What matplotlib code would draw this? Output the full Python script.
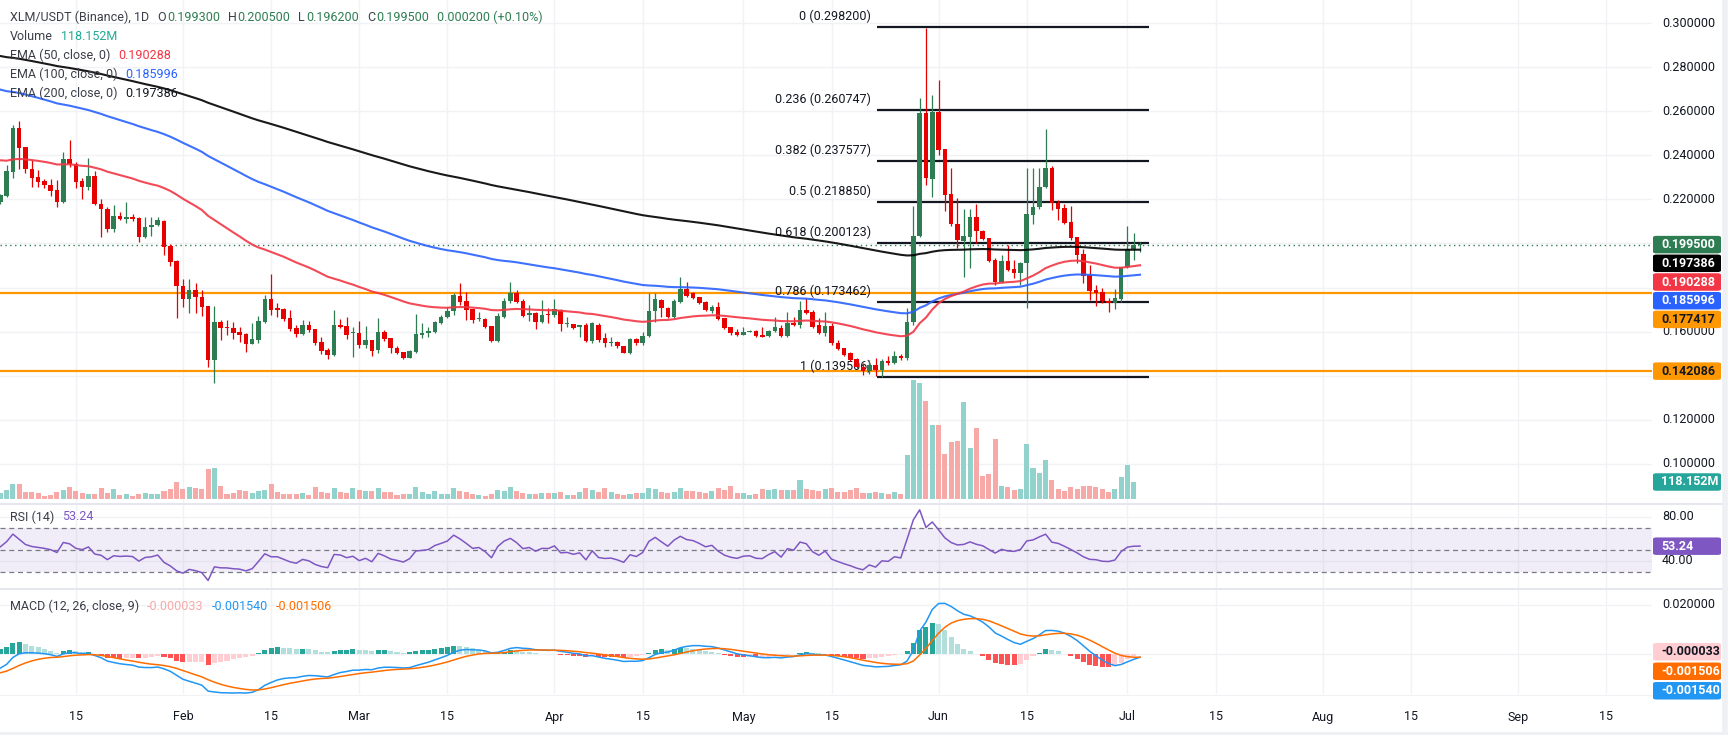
import matplotlib
matplotlib.use('Agg')
import matplotlib.pyplot as plt
from matplotlib.patches import FancyBboxPatch
from matplotlib.lines import Line2D

plt.rcParams['font.family'] = ['Roboto', 'DejaVu Sans']

# ---------------- data (day index: 0 = Jan 1) ----------------
first_day = 2
open_ = [0.2190,0.2217,0.2326,0.2526,0.2438,0.2338,0.2302,0.2284,0.2265,0.2243,0.2190,0.2382,0.2362,0.2284,0.2258,0.2306,0.2179,0.2157,0.2067,0.2125,
         0.2113,0.2118,0.2114,0.2031,0.2073,0.2084,0.2102,0.1990,0.1921,0.1809,0.1748,0.1789,0.1759,0.1716,0.1471,0.1644,0.1621,0.1618,0.1600,0.1589,
         0.1544,0.1563,0.1645,0.1748,0.1709,0.1701,0.1663,0.1617,0.1589,0.1630,0.1612,0.1555,0.1517,0.1494,0.1630,0.1626,0.1596,0.1595,0.1539,0.1562,
         0.1517,0.1600,0.1570,0.1524,0.1506,0.1482,0.1509,0.1585,0.1593,0.1600,0.1641,0.1665,0.1694,0.1763,0.1739,0.1703,0.1659,0.1657,0.1626,0.1559,
         0.1668,0.1739,0.1777,0.1739,0.1676,0.1686,0.1645,0.1678,0.1674,0.1698,0.1633,0.1633,0.1620,0.1630,0.1558,0.1630,0.1570,0.1550,0.1553,0.1535,
         0.1505,0.1565,0.1547,0.1580,0.1694,0.1743,0.1706,0.1665,0.1736,0.1793,0.1774,0.1756,0.1733,0.1694,0.1713,0.1660,0.1623,0.1600,0.1585,0.1600,
         0.1603,0.1585,0.1580,0.1603,0.1615,0.1580,0.1641,0.1630,0.1698,0.1690,0.1630,0.1592,0.1625,0.1550,0.1524,0.1502,0.1474,0.1441,0.1420,0.1450,
         0.1425,0.1465,0.1460,0.1490,0.1480,0.1642,0.2036,0.2591,0.2293,0.2595,0.2429,0.2225,0.2089,0.2013,0.2031,0.2119,0.2058,0.2024,0.1925,0.1827,
         0.1921,0.1884,0.1868,0.1910,0.2129,0.2164,0.2255,0.2341,0.2185,0.2161,0.2098,0.2029,0.1952,0.1857,0.1789,0.1780,0.1739,0.1732,0.1748,0.1892,
         0.1973,0.1993]
high = [0.2225,0.2356,0.2538,0.2556,0.2440,0.2379,0.2333,0.2294,0.2291,0.2288,0.2417,0.2470,0.2371,0.2296,0.2386,0.2329,0.2202,0.2167,0.2175,0.2145,
        0.2190,0.2132,0.2121,0.2119,0.2119,0.2121,0.2107,0.1998,0.1925,0.1839,0.1839,0.1822,0.1789,0.1716,0.1716,0.1653,0.1653,0.1645,0.1623,0.1595,
        0.1641,0.1672,0.1766,0.1862,0.1731,0.1709,0.1698,0.1630,0.1653,0.1648,0.1612,0.1577,0.1524,0.1698,0.1657,0.1668,0.1623,0.1648,0.1626,0.1562,
        0.1660,0.1608,0.1570,0.1535,0.1506,0.1515,0.1680,0.1638,0.1623,0.1648,0.1675,0.1713,0.1774,0.1822,0.1778,0.1703,0.1690,0.1660,0.1626,0.1683,
        0.1754,0.1827,0.1789,0.1747,0.1721,0.1691,0.1743,0.1709,0.1747,0.1701,0.1668,0.1635,0.1630,0.1638,0.1645,0.1638,0.1592,0.1574,0.1558,0.1535,
        0.1570,0.1570,0.1600,0.1774,0.1774,0.1746,0.1713,0.1746,0.1846,0.1827,0.1782,0.1759,0.1740,0.1721,0.1736,0.1660,0.1623,0.1611,0.1623,0.1608,
        0.1608,0.1623,0.1608,0.1668,0.1630,0.1691,0.1668,0.1739,0.1751,0.1698,0.1660,0.1691,0.1638,0.1562,0.1527,0.1509,0.1480,0.1460,0.1470,0.1480,
        0.1475,0.1490,0.1510,0.1500,0.1706,0.2170,0.2659,0.2976,0.2674,0.2742,0.2429,0.2341,0.2205,0.2155,0.2155,0.2179,0.2061,0.2024,0.1933,0.1948,
        0.1993,0.1925,0.1918,0.2341,0.2341,0.2341,0.2520,0.2353,0.2197,0.2179,0.2170,0.2029,0.1974,0.1902,0.1812,0.1797,0.1751,0.1794,0.1895,0.2079,
        0.2046,0.2005]
low = [0.2180,0.2210,0.2298,0.2338,0.2321,0.2258,0.2258,0.2253,0.2217,0.2167,0.2185,0.2349,0.2250,0.2200,0.2243,0.2176,0.2031,0.2054,0.2054,0.2105,
       0.2091,0.2104,0.2008,0.2025,0.2034,0.2080,0.1948,0.1900,0.1660,0.1710,0.1683,0.1683,0.1671,0.1441,0.1369,0.1562,0.1585,0.1567,0.1554,0.1509,
       0.1544,0.1550,0.1640,0.1676,0.1668,0.1650,0.1605,0.1574,0.1583,0.1600,0.1539,0.1499,0.1476,0.1490,0.1615,0.1567,0.1487,0.1524,0.1524,0.1491,
       0.1505,0.1556,0.1502,0.1499,0.1474,0.1479,0.1505,0.1570,0.1574,0.1595,0.1636,0.1660,0.1675,0.1721,0.1653,0.1638,0.1650,0.1618,0.1552,0.1555,
       0.1660,0.1730,0.1730,0.1665,0.1648,0.1612,0.1640,0.1641,0.1668,0.1603,0.1623,0.1610,0.1577,0.1555,0.1550,0.1555,0.1532,0.1535,0.1528,0.1503,
       0.1500,0.1540,0.1540,0.1575,0.1646,0.1668,0.1660,0.1660,0.1729,0.1758,0.1747,0.1725,0.1694,0.1683,0.1655,0.1614,0.1585,0.1580,0.1585,0.1597,
       0.1577,0.1574,0.1577,0.1600,0.1577,0.1577,0.1625,0.1615,0.1680,0.1618,0.1588,0.1580,0.1540,0.1515,0.1490,0.1465,0.1435,0.1405,0.1410,0.1400,
       0.1395,0.1450,0.1455,0.1470,0.1470,0.1630,0.2030,0.2265,0.2212,0.2401,0.2149,0.2080,0.1978,0.1849,0.1890,0.2001,0.2015,0.1915,0.1812,0.1820,
       0.1877,0.1842,0.1812,0.1706,0.2087,0.2155,0.2250,0.2152,0.2107,0.2090,0.2016,0.1910,0.1822,0.1744,0.1718,0.1728,0.1691,0.1705,0.1736,0.1890,
       0.1925,0.1962]
close = [0.2220,0.2329,0.2526,0.2435,0.2338,0.2299,0.2281,0.2264,0.2240,0.2190,0.2382,0.2359,0.2281,0.2258,0.2306,0.2179,0.2155,0.2067,0.2125,0.2113,
         0.2118,0.2110,0.2031,0.2076,0.2084,0.2105,0.1986,0.1918,0.1809,0.1748,0.1789,0.1759,0.1713,0.1471,0.1644,0.1618,0.1615,0.1595,0.1585,0.1544,
         0.1567,0.1648,0.1748,0.1698,0.1698,0.1656,0.1614,0.1589,0.1630,0.1608,0.1550,0.1514,0.1494,0.1630,0.1623,0.1585,0.1600,0.1539,0.1562,0.1514,
         0.1600,0.1567,0.1524,0.1505,0.1482,0.1512,0.1589,0.1595,0.1604,0.1645,0.1668,0.1694,0.1766,0.1736,0.1698,0.1653,0.1661,0.1623,0.1559,0.1671,
         0.1739,0.1777,0.1736,0.1672,0.1686,0.1645,0.1676,0.1674,0.1701,0.1633,0.1637,0.1618,0.1630,0.1558,0.1638,0.1562,0.1550,0.1553,0.1533,0.1505,
         0.1565,0.1547,0.1580,0.1694,0.1746,0.1706,0.1665,0.1739,0.1793,0.1763,0.1754,0.1729,0.1698,0.1713,0.1659,0.1618,0.1595,0.1583,0.1600,0.1603,
         0.1580,0.1577,0.1603,0.1623,0.1580,0.1641,0.1630,0.1698,0.1686,0.1623,0.1592,0.1625,0.1547,0.1520,0.1494,0.1471,0.1441,0.1420,0.1450,0.1425,
         0.1465,0.1460,0.1490,0.1480,0.1642,0.2036,0.2591,0.2296,0.2595,0.2425,0.2220,0.2087,0.2016,0.2034,0.2119,0.2058,0.2020,0.1922,0.1824,0.1921,
         0.1880,0.1868,0.1910,0.2134,0.2164,0.2255,0.2341,0.2182,0.2156,0.2095,0.2026,0.1948,0.1853,0.1786,0.1777,0.1739,0.1732,0.1754,0.1892,0.1975,
         0.1993,0.1995]
# volume in millions; the last candle has no bar drawn yet
volume_m = [41.7,62.6,104,104,48.7,48.7,39.4,20.8,27.8,48.7,62.6,83.4,55.6,41.7,34.8,34.8,76.5,41.7,69.5,27.8,
            34.8,20.8,34.8,41.7,34.8,34.8,55.6,69.5,118,69.5,83.4,76.5,69.5,208.5,215,90.4,34.8,41.7,62.6,55.6,
            41.7,55.6,62.6,104,48.7,34.8,34.8,34.8,41.7,27.8,83.4,48.7,41.7,76.5,48.7,41.7,76.5,62.6,55.6,55.6,
            76.5,48.7,48.7,27.8,34.8,34.8,83.4,48.7,34.8,55.6,34.8,34.8,76.5,55.6,48.7,34.8,27.8,20.8,34.8,62.6,
            55.6,83.4,55.6,41.7,34.8,34.8,41.7,41.7,41.7,48.7,27.8,27.8,48.7,76.5,62.6,48.7,76.5,48.7,34.8,27.8,
            34.8,41.7,41.7,76.5,69.5,48.7,41.7,48.7,76.5,55.6,55.6,48.7,41.7,55.6,76.5,62.6,90.4,41.7,41.7,27.8,
            34.8,69.5,62.6,69.5,62.6,62.6,62.6,132,69.5,62.6,55.6,69.5,76.5,48.7,48.7,62.6,76.5,41.7,41.7,48.7,
            41.7,34.8,48.7,34.8,306,827,806,681,514,514,313,396,403,674,354,493,160,174,417,90.4,
            83.4,62.6,69.5,382,215,181,271,132,69.5,55.6,83.4,69.5,90.4,90.4,83.4,69.5,48.7,69.5,153,236,
            118.152]

ema_specs = [(200, 0.2857, '#000000'), (100, 0.2708, '#2962ff'), (50, 0.2384, '#f23645')]
rsi_seed_gain, rsi_seed_loss = 0.0040, 0.0036
macd_seed_fast, macd_seed_slow, macd_seed_signal = 0.2185, 0.2252, -0.0083

fib_ratios = ['0', '0.236', '0.382', '0.5', '0.618', '0.786', '1']
fib_levels = [0.298200, 0.260747, 0.237577, 0.218850, 0.200123, 0.173462, 0.139506]
fib_start_day, fib_end_day = 141.3, 184.5
hlines_orange = [0.177417, 0.142086]

legend_ohlc = ('0.199300', '0.200500', '0.196200', '0.199500', '0.000200 (+0.10%)')
last_volume = '118.152M'
ema_labels = {50: '0.190288', 100: '0.185996', 200: '0.197386'}
rsi_label = '53.24'
macd_labels = ('-0.000033', '-0.001540', '-0.001506')

tick_days = [14, 31, 45, 59, 73, 90, 104, 120, 134, 151, 165, 181, 195, 212, 226, 243, 257]
tick_labels = ['15', 'Feb', '15', 'Mar', '15', 'Apr', '15', 'May', '15', 'Jun', '15', 'Jul',
               '15', 'Aug', '15', 'Sep', '15']
price_ticks = [0.10, 0.12, 0.14, 0.16, 0.18, 0.20, 0.22, 0.24, 0.26, 0.28, 0.30]
price_tick_shown = [0.10, 0.12, 0.16, 0.22, 0.24, 0.26, 0.28, 0.30]

# ---------------- derived indicators ----------------
n = len(close)
days = [first_day + i for i in range(n)]

def ema(series, length, seed):
    a = 2.0 / (length + 1)
    out, prev = [], seed
    for v in series:
        prev = prev + a * (v - prev)
        out.append(prev)
    return out

g, l = rsi_seed_gain, rsi_seed_loss
rsi = [100 - 100 / (1 + g / l)]
for i in range(1, n):
    ch = close[i] - close[i - 1]
    g = (g * 13 + max(ch, 0)) / 14
    l = (l * 13 + max(-ch, 0)) / 14
    rsi.append(100 - 100 / (1 + g / l))

fast = ema(close, 12, macd_seed_fast)
slow = ema(close, 26, macd_seed_slow)
macd = [f - s for f, s in zip(fast, slow)]
signal = ema(macd, 9, macd_seed_signal)
hist = [m - s for m, s in zip(macd, signal)]

# ---------------- figure layout ----------------
W, H, DPI = 1728, 735, 100
fig = plt.figure(figsize=(W / DPI, H / DPI), dpi=DPI)
fig.patch.set_facecolor('white')
PR = 1652
XL = (1.953, 264.3)

def add_ax(top, bottom):
    a = fig.add_axes([0, 1 - bottom / H, PR / W, (bottom - top) / H])
    a.set_xlim(*XL)
    for s in a.spines.values():
        s.set_visible(False)
    a.set_xticks([]); a.set_yticks([])
    return a

GRID = '#f0f2f5'
axv = add_ax(0, 503)
ax = add_ax(0, 503)
ax.patch.set_alpha(0)
ax.set_ylim(0.08226, 0.31048)
axv.set_ylim(-27.8, 3468)
ax_rsi = add_ax(505, 588)
ax_rsi.set_ylim(15.1, 90.8)
ax_macd = add_ax(590, 694)
ax_macd.set_ylim(-0.01651, 0.02608)

# grid
for d in tick_days:
    for a in (axv, ax_rsi, ax_macd):
        a.axvline(d, color=GRID, lw=1, zorder=0)
for p in price_ticks:
    axv.add_line(Line2D([0, 1], [p, p], transform=ax.get_yaxis_transform(), color=GRID, lw=1, zorder=0))
for r in (80, 40):
    ax_rsi.axhline(r, color=GRID, lw=1, zorder=0)
for m in (0.02, 0.0):
    ax_macd.axhline(m, color=GRID, lw=1, zorder=0)

UP, DN = '#2e7d52', '#e60000'
VUP, VDN = '#92d2cc', '#f7a9a7'

# volume
nv = len(volume_m)
vcols = [VUP if c >= o else VDN for o, c in zip(open_[:nv], close[:nv])]
axv.bar(days[:nv], volume_m, width=0.8, color=vcols, zorder=1)

# orange horizontal levels
for p in hlines_orange:
    ax.axhline(p, color='#ff9800', lw=1.6, zorder=2)

# fib retracement
for r, lvl in zip(fib_ratios, fib_levels):
    ax.plot([fib_start_day, fib_end_day], [lvl, lvl], color='#131722', lw=1.6, zorder=2, solid_capstyle='butt')
    ax.text(fib_start_day - 1.0, lvl + 0.0048, '%s (%.6f)' % (r, lvl), ha='right', va='center',
            fontsize=9, color='#131722', zorder=2)

# last price dotted line
ax.axhline(close[-1], color=UP, lw=1, ls=(0, (1, 2.5)), zorder=2)

# candles
for d, o, h, lo, c in zip(days, open_, high, low, close):
    col = UP if c >= o else DN
    ax.plot([d, d], [lo, h], color=col, lw=0.9, zorder=3, solid_capstyle='butt')
    bh = max(abs(c - o), 0.00045)
    ax.bar(d, bh, bottom=min(o, c), width=0.72, color=col, zorder=4, linewidth=0)

# EMAs
for length, seed, col in ema_specs:
    e = ema(close, length, seed)
    ax.plot(days, e, color=col, lw=1.5, zorder=5, alpha=0.9)

# RSI pane
ax_rsi.axhspan(30, 70, color='#7e57c2', alpha=0.1, lw=0, zorder=0)
for r in (70, 50, 30):
    ax_rsi.axhline(r, color='#787b86', lw=0.9, ls=(0, (4, 3)), zorder=1)
ax_rsi.plot(days, rsi, color='#7e57c2', lw=1.1, zorder=3)

# MACD pane
hcols = []
for i, hv in enumerate(hist):
    prev = hist[i - 1] if i > 0 else hv
    if hv >= 0:
        hcols.append('#26a69a' if hv >= prev else '#b2dfdb')
    else:
        hcols.append('#ffcdd2' if hv >= prev else '#ff5252')
ax_macd.bar(days, hist, width=0.8, color=hcols, zorder=1)
ax_macd.plot(days, macd, color='#2196f3', lw=1.1, zorder=3)
ax_macd.plot(days, signal, color='#ff6d00', lw=1.1, zorder=3)

# pane separators & border
for y in (504, 589):
    fig.add_artist(Line2D([0, 1], [1 - y / H, 1 - y / H], color='#e0e3eb', lw=1.2))
fig.add_artist(Line2D([0, 1], [1 - 694.5 / H, 1 - 694.5 / H], color='#f0f2f5', lw=0.8))
fig.add_artist(Line2D([1 - 3 / W, 1 - 3 / W], [0, 1], color='#eef0f4', lw=4))
fig.add_artist(Line2D([0, 1], [1.5 / H, 1.5 / H], color='#eef0f4', lw=3))

# ---------------- text ----------------
TXT = '#131722'
fig.canvas.draw()
renderer = fig.canvas.get_renderer()

def data_to_py(a, y):
    return H - a.transData.transform((XL[0], y))[1]

def put(xp, yp, s, **kw):
    return fig.text(xp / W, 1 - yp / H, s, **kw)

for p in price_tick_shown:
    put(1662, data_to_py(ax, p), '%.6f' % p, fontsize=9, color=TXT, va='center', ha='left')
for r in (80, 40):
    put(1662, data_to_py(ax_rsi, r), '%.2f' % r, fontsize=9, color=TXT, va='center', ha='left')
put(1662, data_to_py(ax_macd, 0.02), '0.020000', fontsize=9, color=TXT, va='center', ha='left')

for d, lab in zip(tick_days, tick_labels):
    xp = ax.transData.transform((d, 0.2))[0]
    put(xp, 717, lab, fontsize=9, color=TXT, va='center', ha='center')

def tag(yp, s, bg, fg):
    h = 17.5
    fig.add_artist(FancyBboxPatch(((PR + 1) / W, (H - yp - h / 2) / H), 68 / W, h / H,
                                  boxstyle='round,pad=0,rounding_size=0.002', transform=fig.transFigure,
                                  facecolor=bg, edgecolor='none', zorder=10))
    put(PR + 9, yp, s, fontsize=9, color=fg, va='center', ha='left', fontweight='bold', zorder=11)

def stack(items, gap=18.7):
    items = sorted(items, key=lambda t: t[0])
    out, last = [], -1e9
    for yp, *rest in items:
        yp = max(yp, last + gap)
        out.append((yp, *rest))
        last = yp
    return out

main_tags = [
    (data_to_py(ax, close[-1]), legend_ohlc[3], UP, 'white'),
    (data_to_py(ax, float(ema_labels[200])), ema_labels[200], '#000000', 'white'),
    (data_to_py(ax, float(ema_labels[50])), ema_labels[50], '#f23645', 'white'),
    (data_to_py(ax, float(ema_labels[100])), ema_labels[100], '#2962ff', 'white'),
    (data_to_py(ax, hlines_orange[0]), '%.6f' % hlines_orange[0], '#ff9800', TXT),
]
for t in stack(main_tags):
    tag(*t)
tag(data_to_py(ax, hlines_orange[1]), '%.6f' % hlines_orange[1], '#ff9800', TXT)
tag(H - axv.transData.transform((XL[0], volume_m[-1]))[1], last_volume, '#26a69a', 'white')
tag(data_to_py(ax_rsi, float(rsi_label)), rsi_label, '#7e57c2', 'white')
macd_tags = [
    (data_to_py(ax_macd, float(macd_labels[0])) - 2, macd_labels[0], '#ffcdd2', TXT),
    (data_to_py(ax_macd, float(macd_labels[2])), macd_labels[2], '#ff6d00', 'white'),
    (data_to_py(ax_macd, float(macd_labels[1])) + 1, macd_labels[1], '#2196f3', 'white'),
]
for t in stack(macd_tags, gap=19.5):
    tag(*t)

def segs(xp, yp, parts):
    for s, col, gap in parts:
        t = put(xp, yp, s, fontsize=9, color=col, va='center', ha='left')
        xp += t.get_window_extent(renderer=renderer).width + gap

LG = '#3c3f48'
segs(10, 17.5, [('XLM/USDT (Binance), 1D', LG, 8), ('O', LG, 1), (legend_ohlc[0], UP, 8),
                ('H', LG, 1), (legend_ohlc[1], UP, 8), ('L', LG, 1), (legend_ohlc[2], UP, 8),
                ('C', LG, 1), (legend_ohlc[3], UP, 8), (legend_ohlc[4], UP, 0)])
segs(10, 36.5, [('Volume', LG, 8), (last_volume, '#22ab94', 0)])
segs(10, 55.5, [('EMA (50, close, 0)', LG, 8), (ema_labels[50], '#f23645', 0)])
segs(10, 74.5, [('EMA (100, close, 0)', LG, 8), (ema_labels[100], '#2962ff', 0)])
segs(10, 93.5, [('EMA (200, close, 0)', LG, 8), (ema_labels[200], TXT, 0)])
segs(10, 517, [('RSI (14)', LG, 8), (rsi_label, '#7e57c2', 0)])
segs(10, 606.5, [('MACD (12, 26, close, 9)', LG, 8), (macd_labels[0], '#f7a9a7', 8),
                 (macd_labels[1], '#2196f3', 8), (macd_labels[2], '#ff6d00', 0)])

fig.savefig('out.png', dpi=DPI, facecolor='white')
